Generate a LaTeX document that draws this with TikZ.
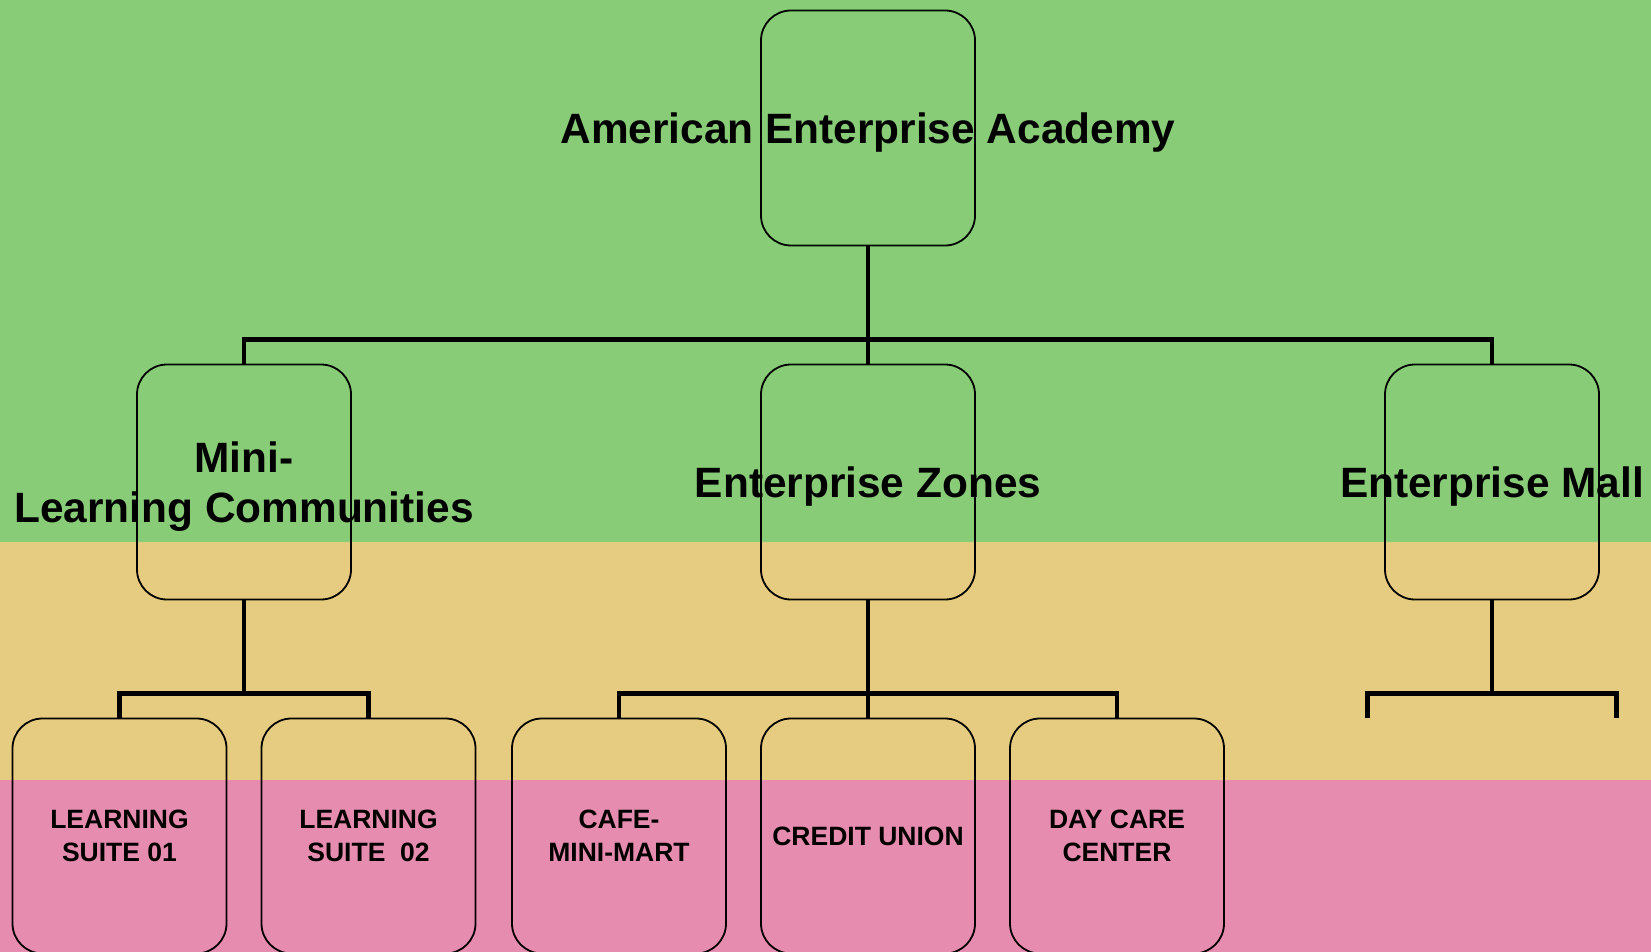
\documentclass[tikz,border=0pt]{standalone}
\usepackage{fontspec}
\setmainfont{Liberation Sans}
\definecolor{bandgreen}{RGB}{137,204,120}
\definecolor{bandtan}{RGB}{230,204,128}
\definecolor{bandpink}{RGB}{230,140,175}
\tikzset{
    unitbox/.style = {draw=black, line width=1.8pt, rounded corners=30pt, minimum width=214pt, minimum height=235pt, inner sep=0pt},
    toplabel/.style = {align=center, inner sep=0pt, yshift=-5pt, font=\bfseries\fontsize{42.4}{50}\selectfont},
    sublabel/.style = {align=center, inner sep=0pt, font=\bfseries\fontsize{26.5}{33}\selectfont}
}
\begin{document}
\begin{tikzpicture}
            [x=1pt, y=1pt,
            level 1/.style={sibling distance = 624pt, level distance = 354pt},
            level 2/.style={sibling distance = 249pt, level distance = 354pt},
            edge from parent/.append style={line width=4.5pt},
            edge from parent path={(\tikzparentnode.south) -- ++(0,-93) -| (\tikzchildnode)}]

            % background bands
            \useasboundingbox (0,0) rectangle (1651,-952);
            \clip (0,0) rectangle (1651,-952);
            \fill [bandgreen] (0,0) rectangle (1651,-542);
            \fill [bandtan] (0,-542) rectangle (1651,-780);
            \fill [bandpink] (0,-780) rectangle (1651,-952);

            \node 
            [unitbox, label={[name=aea-text, toplabel]center:American Enterprise Academy}] (aea) at (868,-128) {}
            child {
                node [unitbox, label={[name=mlc-text, toplabel]center:{Mini-\\Learning Communities}}] (mlc) {}
                child { node [unitbox, label={[name=ls1-text, sublabel]center:{LEARNING\\SUITE 01}}] (ls1) {} }
                child { node [unitbox, label={[name=ls2-text, sublabel]center:{LEARNING\\SUITE\ \ 02}}] (ls2) {} }
            }
            child {
                node [unitbox, label={[name=ez-text, toplabel]center:Enterprise Zones}] (ez) {}
                child { node [unitbox, label={[name=cafe-text, sublabel]center:{CAFE-\\MINI-MART}}] (cafe) {} }
                child { node [unitbox, label={[name=cu-text, sublabel]center:CREDIT UNION}] (cu) {} }
                child { node [unitbox, label={[name=dcc-text, sublabel]center:{DAY CARE\\CENTER}}] (dcc) {} }
            }
            child {
                node [unitbox, label={[name=em-text, toplabel]center:Enterprise Mall}] (em) {}
                child [level distance = 236pt] { coordinate (em-left) }
                child [level distance = 236pt] { coordinate (em-right) }
            }
            ;
\end{tikzpicture}
\end{document}
